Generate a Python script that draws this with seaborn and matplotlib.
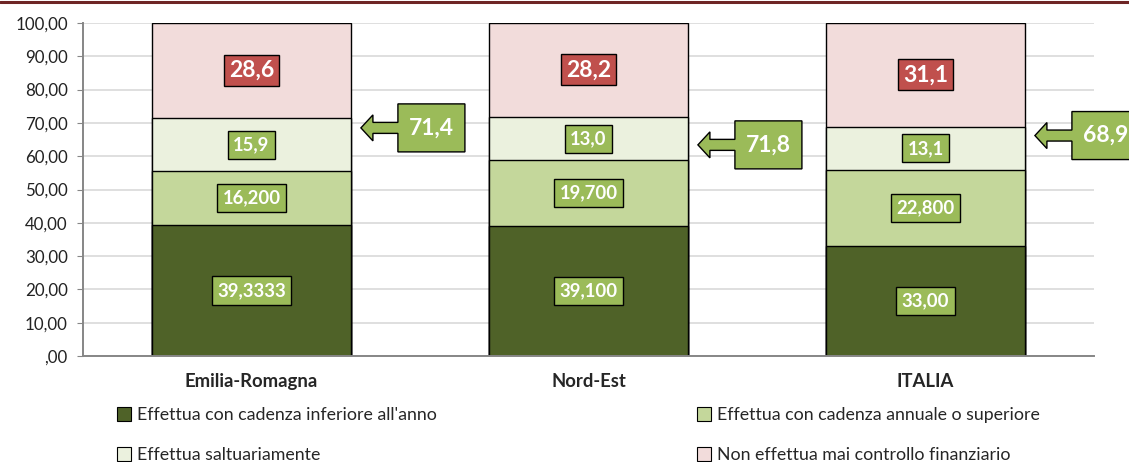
import numpy as np
import matplotlib
matplotlib.use('Agg')
import matplotlib.pyplot as plt
import seaborn as sns
from matplotlib.patches import Polygon, Patch
from matplotlib.lines import Line2D

areas = ['Emilia-Romagna', 'Nord-Est', 'ITALIA']
series = ["Effettua con cadenza inferiore all'anno",
          'Effettua con cadenza annuale o superiore',
          'Effettua saltuariamente',
          'Non effettua mai controllo finanziario']

inferiore = [39.3333, 39.1, 33.0]
annuale = [16.2, 19.7, 22.8]
saltuaria = [15.9, 13.0, 13.1]
mai = [28.6, 28.2, 31.1]

# etichette come appaiono nel grafico originale
lab_inferiore = ['39,3333', '39,100', '33,00']
lab_annuale = ['16,200', '19,700', '22,800']
lab_saltuaria = ['15,9', '13,0', '13,1']
lab_mai = ['28,6', '28,2', '31,1']

colors = ['#4F6228', '#C4D79B', '#EBF1DE', '#F2DCDB']
arrow_y = [68.5, 63.4, 66.2]

sns.set_style('white')
plt.rcParams['font.family'] = ['Lato', 'DejaVu Sans']

fig = plt.figure(figsize=(11.29, 4.62), dpi=100)
ax = fig.add_axes([83 / 1129, 106 / 462, 1011 / 1129, 333 / 462])

values = np.array([inferiore, annuale, saltuaria, mai])
cum = np.cumsum(values, axis=0)
bar_w = 0.59

# barre impilate: si disegnano i cumulati dal più alto al più basso
for k in range(3, -1, -1):
    sns.barplot(x=areas, y=cum[k], color=colors[k], saturation=1, width=bar_w,
                edgecolor='black', linewidth=1.0, errorbar=None, ax=ax, zorder=2)

ax.set_xlim(-0.5, 2.5)
ax.set_ylim(0, 100)
ax.set_yticks(np.arange(0, 101, 10))
ax.set_yticklabels([',00' if v == 0 else f'{v:.2f}'.replace('.', ',') for v in np.arange(0, 101, 10)],
                   fontsize=12.2, color='#222222')
ax.set_xticks([0, 1, 2])
ax.set_xticklabels(areas, fontsize=13.3, fontweight='bold')
ax.set_xticks([-0.5, 0.5, 1.5, 2.5], minor=True)
ax.tick_params(axis='x', which='major', length=0, pad=12)
ax.tick_params(axis='x', which='minor', length=4, color='#A6A6A6', direction='out')
ax.tick_params(axis='y', length=4, color='#868686', direction='out', pad=7, left=True)
ax.set_xlabel('')
ax.set_ylabel('')
ax.yaxis.grid(True, color='#D9D9D9', lw=1.2)
ax.set_axisbelow(True)
for s in ['top', 'right']:
    ax.spines[s].set_visible(False)
for s in ['left', 'bottom']:
    ax.spines[s].set_color('#868686')
    ax.spines[s].set_linewidth(1.4)

# etichette dei valori
labels = [lab_inferiore, lab_annuale, lab_saltuaria, lab_mai]
for k in range(4):
    for i in range(3):
        bottom = cum[k][i] - values[k][i]
        mid = bottom + values[k][i] / 2
        if k == 3:
            ax.text(i, mid, labels[k][i], ha='center', va='center', color='white',
                    fontsize=16.5, fontweight='bold', zorder=4,
                    bbox=dict(boxstyle='square,pad=0.22', fc='#C0504D', ec='black', lw=1))
        else:
            ax.text(i, mid, labels[k][i], ha='center', va='center', color='white',
                    fontsize=13.3, fontweight='bold', zorder=4,
                    bbox=dict(boxstyle='square,pad=0.3', fc='#9BBB59', ec='black', lw=1))

# frecce con il totale di chi effettua controlli
shape = np.array([(0, 0), (12, 13), (12, 5.5), (37, 5.5), (37, 24), (104, 24),
                  (104, -24), (37, -24), (37, -5.5), (12, -5.5), (12, -13)])
inv = ax.transData.inverted()
for i in range(3):
    tot = cum[2][i]
    tip = ax.transData.transform((i + bar_w / 2, arrow_y[i])) + np.array([10, 0])
    verts = inv.transform(tip + shape)
    ax.add_patch(Polygon(verts, closed=True, fc='#9BBB59', ec='black', lw=1,
                         clip_on=False, zorder=5))
    cx, cy = inv.transform(tip + np.array([70.5, 0]))
    ax.text(cx, cy, f'{tot:.1f}'.replace('.', ','), ha='center', va='center',
            color='white', fontsize=16.5, fontweight='bold', zorder=6, clip_on=False)

# legenda su due colonne
handles = [Patch(fc=c, ec='black', lw=0.8) for c in colors]
leg_kw = dict(loc='upper left', frameon=False, fontsize=12.8, handlelength=0.8,
              handleheight=0.8, handletextpad=0.3, labelspacing=1.35,
              borderpad=0, borderaxespad=0)
fig.legend([handles[0], handles[2]], [series[0], series[2]],
           bbox_to_anchor=(117 / 1129, 1 - 407 / 462), **leg_kw)
fig.legend([handles[1], handles[3]], [series[1], series[3]],
           bbox_to_anchor=(697 / 1129, 1 - 407 / 462), **leg_kw)

# linea rossa in alto
fig.add_artist(Line2D([0, 1], [1 - 2 / 462, 1 - 2 / 462], transform=fig.transFigure,
                      color='#6E2525', lw=2.2))

fig.savefig('out.png', dpi=100)
